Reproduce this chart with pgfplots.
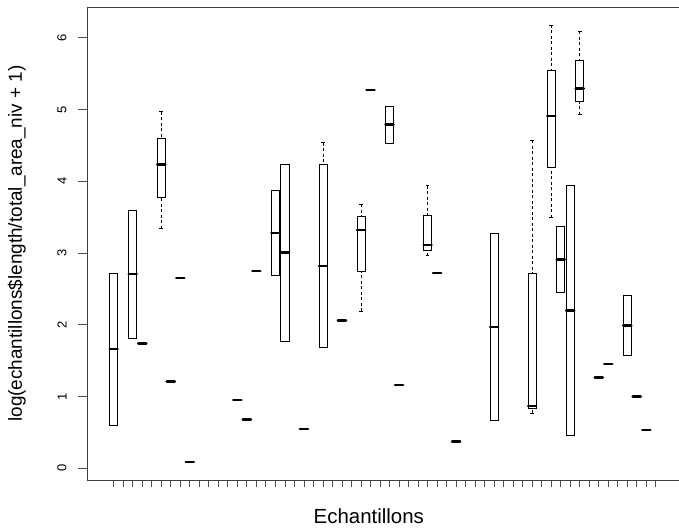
\documentclass[border=0pt]{standalone}
\usepackage{pgfplots}
\pgfplotsset{compat=1.18}
\usepgfplotslibrary{statistics}
\usepackage{fontspec}
\setmainfont{Liberation Sans}

% one box: position, lower whisker, lower quartile, median, upper quartile, upper whisker
\newcommand{\bx}[6]{\addplot[black, line width=0.8bp, boxplot prepared={draw position=#1, lower whisker=#2, lower quartile=#3, median=#4, upper quartile=#5, upper whisker=#6}] coordinates {};}

\begin{document}
\begin{tikzpicture}
\begin{axis}[
  name=ax,
  at={(0,0)}, anchor=south west,
  scale only axis,
  width=592bp, height=473bp,
  xmin=-1.81, xmax=60.44,
  ymin=-0.165, ymax=6.43,
  axis line style={draw=none},
  xtick={1,...,58},
  xticklabels={},
  ytick={0,1,2,3,4,5,6},
  xtick pos=left, ytick pos=left,
  tick align=outside,
  x tick style={black!70, line width=0.8bp, /pgfplots/major tick length=7bp},
  y tick style={black!70, line width=0.8bp, /pgfplots/major tick length=9bp},
  /pgf/number format/assume math mode=true,
  yticklabel style={rotate=90, anchor=south, inner sep=0pt, font=\fontsize{13}{13}\selectfont, yshift=16bp},
  every axis y label/.style={at={([xshift=-61bp]axis description cs:0,0.5)}, rotate=90, anchor=south, inner sep=0pt, font=\fontsize{19}{19}\selectfont},
  every axis x label/.style={at={([yshift=-43bp]axis description cs:0.476,0)}, anchor=base, inner sep=0pt, font=\fontsize{20.5}{20.5}\selectfont},
  xlabel={Echantillons},
  ylabel={log(echantillons\$length/total\_area\_niv + 1)},
  boxplot/draw direction=y,
  boxplot/box extend=0.85,
  boxplot/whisker extend=0.4,
  boxplot/every median/.style={line width=2.6bp, line cap=round},
  boxplot/draw/lower whisker/.code={%
    \draw[dash pattern=on 3bp off 2.5bp] (boxplot box cs:\pgfplotsboxplotvalue{lower whisker},0.5) -- (boxplot box cs:\pgfplotsboxplotvalue{lower quartile},0.5);
    \draw (boxplot whisker cs:\pgfplotsboxplotvalue{lower whisker},0) -- (boxplot whisker cs:\pgfplotsboxplotvalue{lower whisker},1);
  },
  boxplot/draw/upper whisker/.code={%
    \draw[dash pattern=on 3bp off 2.5bp] (boxplot box cs:\pgfplotsboxplotvalue{upper whisker},0.5) -- (boxplot box cs:\pgfplotsboxplotvalue{upper quartile},0.5);
    \draw (boxplot whisker cs:\pgfplotsboxplotvalue{upper whisker},0) -- (boxplot whisker cs:\pgfplotsboxplotvalue{upper whisker},1);
  },
]
\bx{1}{0.59}{0.59}{1.66}{2.72}{2.72}
\bx{3}{1.81}{1.81}{2.71}{3.60}{3.60}
\bx{4}{1.74}{1.74}{1.74}{1.74}{1.74}
\bx{6}{3.34}{3.78}{4.23}{4.60}{4.97}
\bx{7}{1.21}{1.21}{1.21}{1.21}{1.21}
\bx{8}{2.65}{2.65}{2.65}{2.65}{2.65}
\bx{9}{0.084}{0.084}{0.084}{0.084}{0.084}
\bx{14}{0.95}{0.95}{0.95}{0.95}{0.95}
\bx{15}{0.68}{0.68}{0.68}{0.68}{0.68}
\bx{16}{2.75}{2.75}{2.75}{2.75}{2.75}
\bx{18}{2.69}{2.69}{3.28}{3.87}{3.87}
\bx{19}{1.77}{1.77}{3.01}{4.24}{4.24}
\bx{21}{0.544}{0.544}{0.544}{0.544}{0.544}
\bx{23}{1.68}{1.68}{2.82}{4.24}{4.54}
\bx{25}{2.06}{2.06}{2.06}{2.06}{2.06}
\bx{27}{2.19}{2.75}{3.32}{3.51}{3.68}
\bx{28}{5.27}{5.27}{5.27}{5.27}{5.27}
\bx{30}{4.53}{4.53}{4.79}{5.05}{5.05}
\bx{31}{1.16}{1.16}{1.16}{1.16}{1.16}
\bx{34}{2.96}{3.03}{3.11}{3.52}{3.94}
\bx{35}{2.72}{2.72}{2.72}{2.72}{2.72}
\bx{37}{0.37}{0.37}{0.37}{0.37}{0.37}
\bx{41}{0.66}{0.66}{1.97}{3.28}{3.28}
\bx{45}{0.77}{0.84}{0.865}{2.72}{4.57}
\bx{47}{3.49}{4.20}{4.91}{5.55}{6.18}
\bx{48}{2.45}{2.45}{2.91}{3.37}{3.37}
\bx{49}{0.46}{0.46}{2.20}{3.94}{3.94}
\bx{50}{4.93}{5.11}{5.29}{5.69}{6.09}
\bx{52}{1.26}{1.26}{1.26}{1.26}{1.26}
\bx{53}{1.45}{1.45}{1.45}{1.45}{1.45}
\bx{55}{1.57}{1.57}{1.99}{2.41}{2.41}
\bx{56}{1.00}{1.00}{1.00}{1.00}{1.00}
\bx{57}{0.53}{0.53}{0.53}{0.53}{0.53}
\end{axis}
\draw[black!75, line width=0.8bp] (ax.north east) -- (ax.north west) -- (ax.south west) -- (ax.south east);
\pgfresetboundingbox
\path (-87bp,-51bp) rectangle (592bp,480bp);
\end{tikzpicture}
\end{document}
